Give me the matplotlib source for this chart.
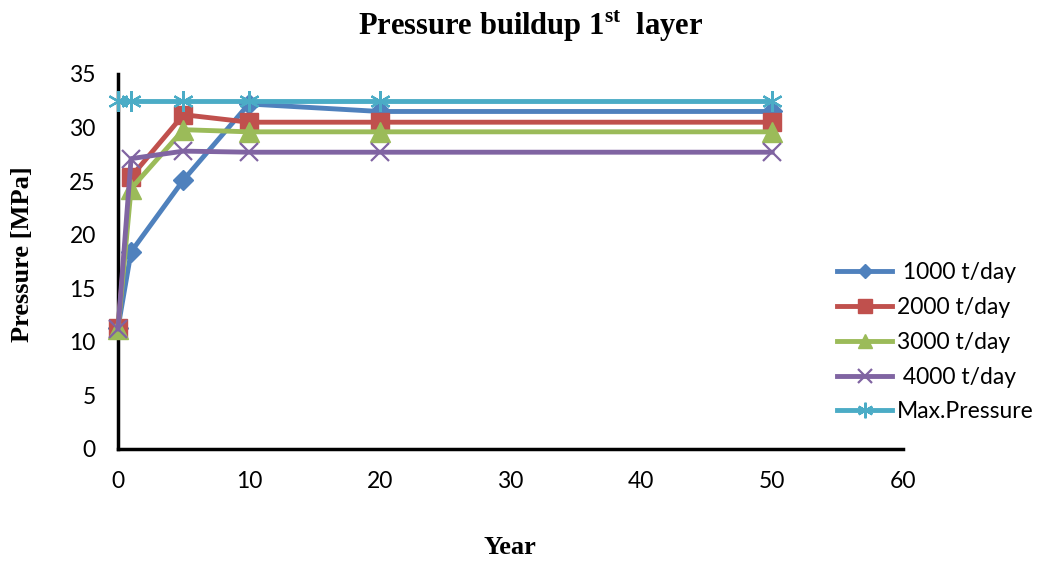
import numpy as np
import matplotlib
matplotlib.use("Agg")
import matplotlib.pyplot as plt

# data
years = [0, 1, 5, 10, 20, 50]
p_1000 = [11.3, 18.4, 25.1, 32.2, 31.5, 31.5]
p_2000 = [11.3, 25.4, 31.2, 30.5, 30.5, 30.5]
p_3000 = [11.2, 24.3, 29.8, 29.6, 29.6, 29.6]
p_4000 = [11.2, 27.1, 27.8, 27.7, 27.7, 27.7]
p_max = [32.5, 32.5, 32.5, 32.5, 32.5, 32.5]

labels = [" 1000 t/day", "2000 t/day", "3000 t/day", " 4000 t/day", "Max.Pressure"]
x_ticks = [0, 10, 20, 30, 40, 50, 60]
y_ticks = [0, 5, 10, 15, 20, 25, 30, 35]

plt.rcParams['mathtext.fontset'] = 'custom'
plt.rcParams['mathtext.bf'] = 'Liberation Serif:bold'
plt.rcParams['mathtext.rm'] = 'Liberation Serif:bold'

fig = plt.figure(figsize=(10.48, 5.63), dpi=100)
ax = fig.add_axes([0.1126, 0.2025, 0.8616 - 0.1126, 0.8686 - 0.2025])

lw = 3.5
ax.plot(years, p_1000, color='#4F81BD', lw=lw, marker='D', ms=10, label=labels[0], clip_on=False)
ax.plot(years, p_2000, color='#C0504D', lw=lw, marker='s', ms=13, label=labels[1], clip_on=False)
ax.plot(years, p_3000, color='#9BBB59', lw=lw, marker='^', ms=14, label=labels[2], clip_on=False)
ax.plot(years, p_4000, color='#8064A2', lw=lw, marker='x', ms=13, mew=1.6, label=labels[3], clip_on=False)
ax.plot(years, p_max, color='#4BACC6', lw=lw, marker=(6, 2, 0), ms=15, mew=1.6, label=labels[4], clip_on=False)

ax.set_xlim(0, 60)
ax.set_ylim(0, 35)
ax.set_xticks(x_ticks)
ax.set_yticks(y_ticks)
ax.tick_params(length=0, pad=16, labelsize=16.5)
for lab in ax.get_xticklabels() + ax.get_yticklabels():
    lab.set_fontfamily('Lato')

for s in ['top', 'right']:
    ax.spines[s].set_visible(False)
for s in ['left', 'bottom']:
    ax.spines[s].set_linewidth(2.5)
    ax.spines[s].set_color('black')
    ax.spines[s].set_zorder(1)

fig.text(0.506, 0.953, r"Pressure buildup 1$^{\mathbf{st}}$  layer", ha='center', va='center',
         fontsize=22, fontweight='bold', family='Liberation Serif')
fig.text(0.487, 0.027, "Year", ha='center', va='center', fontsize=19,
         fontweight='bold', family='Liberation Serif')
fig.text(0.021, 0.548, "Pressure [MPa]", ha='center', va='center', rotation=90,
         fontsize=19, fontweight='bold', family='Liberation Serif')

leg = ax.legend(loc='center left', bbox_to_anchor=(0.79, 0.392), bbox_transform=fig.transFigure,
                frameon=False, prop={'family': 'Lato', 'size': 16.5}, handlelength=2.4,
                handletextpad=0.2, labelspacing=0.6, markerscale=0.75, borderaxespad=0)

fig.savefig('out.png', dpi=100)
